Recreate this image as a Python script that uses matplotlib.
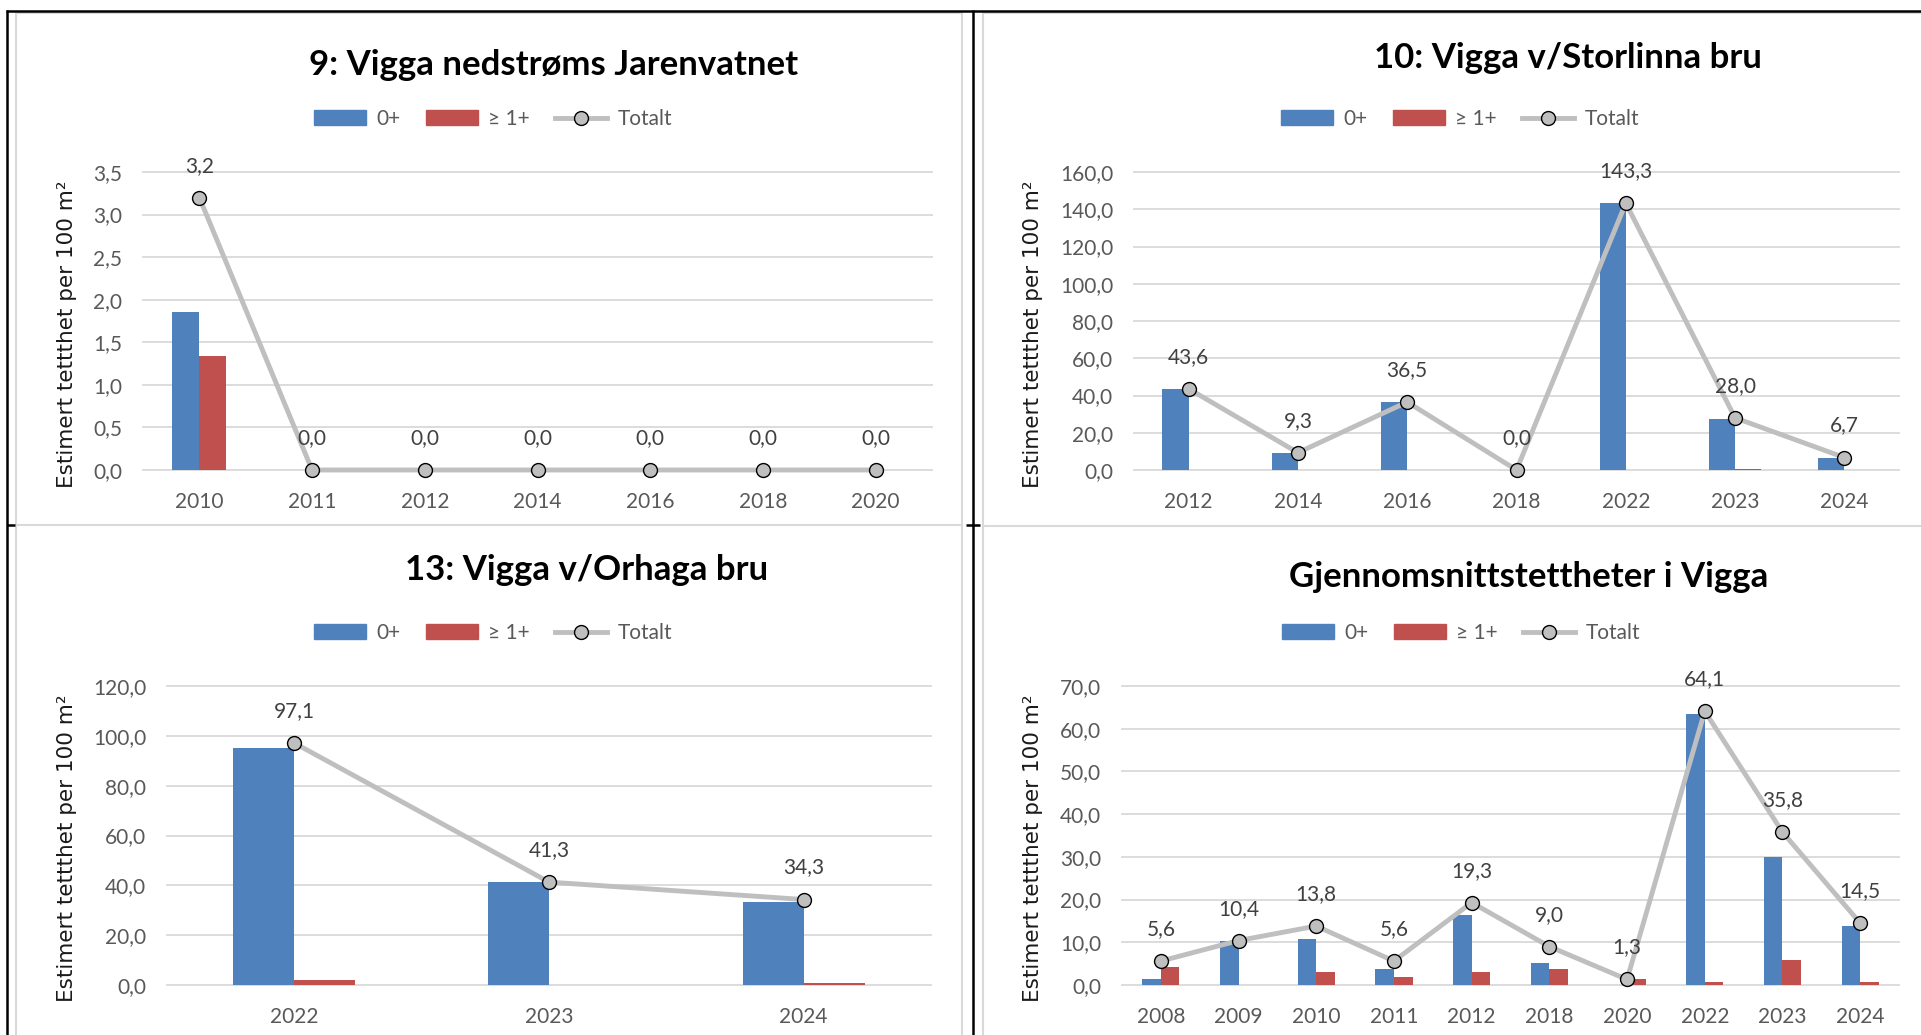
import matplotlib
matplotlib.use("Agg")
import matplotlib.pyplot as plt
from matplotlib.lines import Line2D
from matplotlib.patches import Patch

plt.rcParams["font.family"] = ["Lato", "DejaVu Sans"]

W, H = 1921, 1035

BLUE = "#4F81BD"
RED = "#C0504D"
GREY_LINE = "#BFBFBF"
GRID = "#D9D9D9"
TXT = "#595959"

# 9: Vigga nedstrøms Jarenvatnet
years_9 = ["2010", "2011", "2012", "2014", "2016", "2018", "2020"]
null_9 = [1.86, 0, 0, 0, 0, 0, 0]
eldre_9 = [1.34, 0, 0, 0, 0, 0, 0]
totalt_9 = [3.2, 0.0, 0.0, 0.0, 0.0, 0.0, 0.0]

# 10: Vigga v/Storlinna bru
years_10 = ["2012", "2014", "2016", "2018", "2022", "2023", "2024"]
null_10 = [43.6, 9.3, 36.5, 0, 143.3, 27.2, 6.6]
eldre_10 = [0, 0, 0, 0, 0, 0.8, 0.1]
totalt_10 = [43.6, 9.3, 36.5, 0.0, 143.3, 28.0, 6.7]

# 13: Vigga v/Orhaga bru
years_13 = ["2022", "2023", "2024"]
null_13 = [95.1, 41.3, 33.5]
eldre_13 = [2.0, 0, 0.8]
totalt_13 = [97.1, 41.3, 34.3]

# Gjennomsnitt
years_snitt = ["2008", "2009", "2010", "2011", "2012", "2018", "2020", "2022", "2023", "2024"]
null_snitt = [1.5, 10.4, 10.8, 3.8, 16.3, 5.2, 0, 63.4, 30.0, 13.9]
eldre_snitt = [4.1, 0, 3.0, 1.8, 3.0, 3.8, 1.3, 0.7, 5.8, 0.6]
totalt_snitt = [5.6, 10.4, 13.8, 5.6, 19.3, 9.0, 1.3, 64.1, 35.8, 14.5]

titles = ["9: Vigga nedstrøms Jarenvatnet", "10: Vigga v/Storlinna bru",
          "13: Vigga v/Orhaga bru", "Gjennomsnittstettheter i Vigga"]
ylabel = "Estimert tettthet per 100 m²"
legend_labels = ["0+", "≥ 1+", "Totalt"]

fig = plt.figure(figsize=(W / 100, H / 100), dpi=100)
fig.patch.set_facecolor("white")


def fx(x):
    return x / W


def fy(y):
    return 1 - y / H


def fig_line(xs, ys, color, lw):
    fig.add_artist(Line2D([fx(v) for v in xs], [fy(v) for v in ys],
                          color=color, lw=lw, solid_capstyle="butt"))


def comma(v):
    return f"{v:.1f}".replace(".", ",")


def panel(box, years, v0, v1, tot, ymax, step, title, title_xy, leg_xy, ylab_xy):
    x0, x1, ytop, ybot = box
    ax = fig.add_axes([fx(x0), fy(ybot), (x1 - x0) / W, (ybot - ytop) / H])
    ax.set_facecolor("none")
    n = len(years)
    pos = list(range(n))
    ax.set_xlim(-0.5, n - 0.5)
    ax.set_ylim(0, ymax)

    ticks = [i * step for i in range(int(round(ymax / step)) + 1)]
    for t in ticks:
        ax.axhline(t, color=GRID, lw=1.3, zorder=0, clip_on=False)

    bw = 0.24
    ax.bar([p - bw / 2 for p in pos], v0, width=bw, color=BLUE, zorder=2)
    ax.bar([p + bw / 2 for p in pos], v1, width=bw, color=RED, zorder=2)
    ax.plot(pos, tot, color=GREY_LINE, lw=3.5, marker="o", ms=10,
            mfc=GREY_LINE, mec="black", mew=1.0, zorder=3, clip_on=False)
    for p, t in zip(pos, tot):
        ax.annotate(comma(t), (p, t), xytext=(0, 23), textcoords="offset points",
                    ha="center", va="center", fontsize=15, color="#404040",
                    annotation_clip=False)

    ax.set_yticks(ticks)
    ax.set_yticklabels([comma(t) for t in ticks])
    ax.set_xticks(pos)
    ax.set_xticklabels(years)
    ax.tick_params(length=0, labelsize=15, labelcolor=TXT)
    ax.tick_params(axis="y", pad=15)
    ax.tick_params(axis="x", pad=16)
    for s in ax.spines.values():
        s.set_visible(False)

    fig.text(fx(title_xy[0]), fy(title_xy[1]), title, ha="center", va="center",
             fontsize=25, fontweight="bold", color="black")
    fig.text(fx(ylab_xy[0]), fy(ylab_xy[1]), ylabel, rotation=90, ha="center",
             va="center", fontsize=15.5, family=["DejaVu Sans"], color="#1a1a1a")

    handles = [Patch(color=BLUE), Patch(color=RED),
               Line2D([], [], color=GREY_LINE, lw=3.5, marker="o", ms=10,
                      mfc=GREY_LINE, mec="black", mew=1.0)]
    fig.legend(handles, legend_labels, loc="center",
               bbox_to_anchor=(fx(leg_xy[0]), fy(leg_xy[1])), ncol=3,
               frameon=False, fontsize=15, labelcolor=TXT, handlelength=2.5,
               handleheight=0.7, handletextpad=0.5, columnspacing=1.2,
               borderpad=0)


panel((143, 932, 172, 470), years_9, null_9, eldre_9, totalt_9, 3.5, 0.5,
      titles[0], (554, 65), (493, 119), (67, 334))
panel((1134, 1899, 172, 470), years_10, null_10, eldre_10, totalt_10, 160, 20,
      titles[1], (1568, 58), (1460, 119), (1033, 334))
panel((167, 931, 686, 985), years_13, null_13, eldre_13, totalt_13, 120, 20,
      titles[2], (587, 570), (493, 633), (67, 848))
panel((1122, 1899, 686, 985), years_snitt, null_snitt, eldre_snitt, totalt_snitt,
      70, 10, titles[3], (1529, 577), (1461, 633), (1033, 848))

# chart area borders
for x in (16, 962, 983):
    fig_line([x, x], [12, H], GRID, 1.5)
fig_line([16, 962], [13, 13], GRID, 1.5)
fig_line([983, W], [13, 13], GRID, 1.5)
fig_line([16, 962], [525, 525], GRID, 1.5)
fig_line([983, W], [526, 526], GRID, 1.5)

# black frame
fig_line([7, 7], [10, H], "black", 1.8)
fig_line([6, W], [11, 11], "black", 1.8)
fig_line([973, 973], [10, H], "black", 1.8)
fig_line([7, 15], [525, 525], "black", 1.8)
fig_line([966, 980], [525, 525], "black", 1.8)

fig.savefig("out.png", dpi=100, facecolor="white")
